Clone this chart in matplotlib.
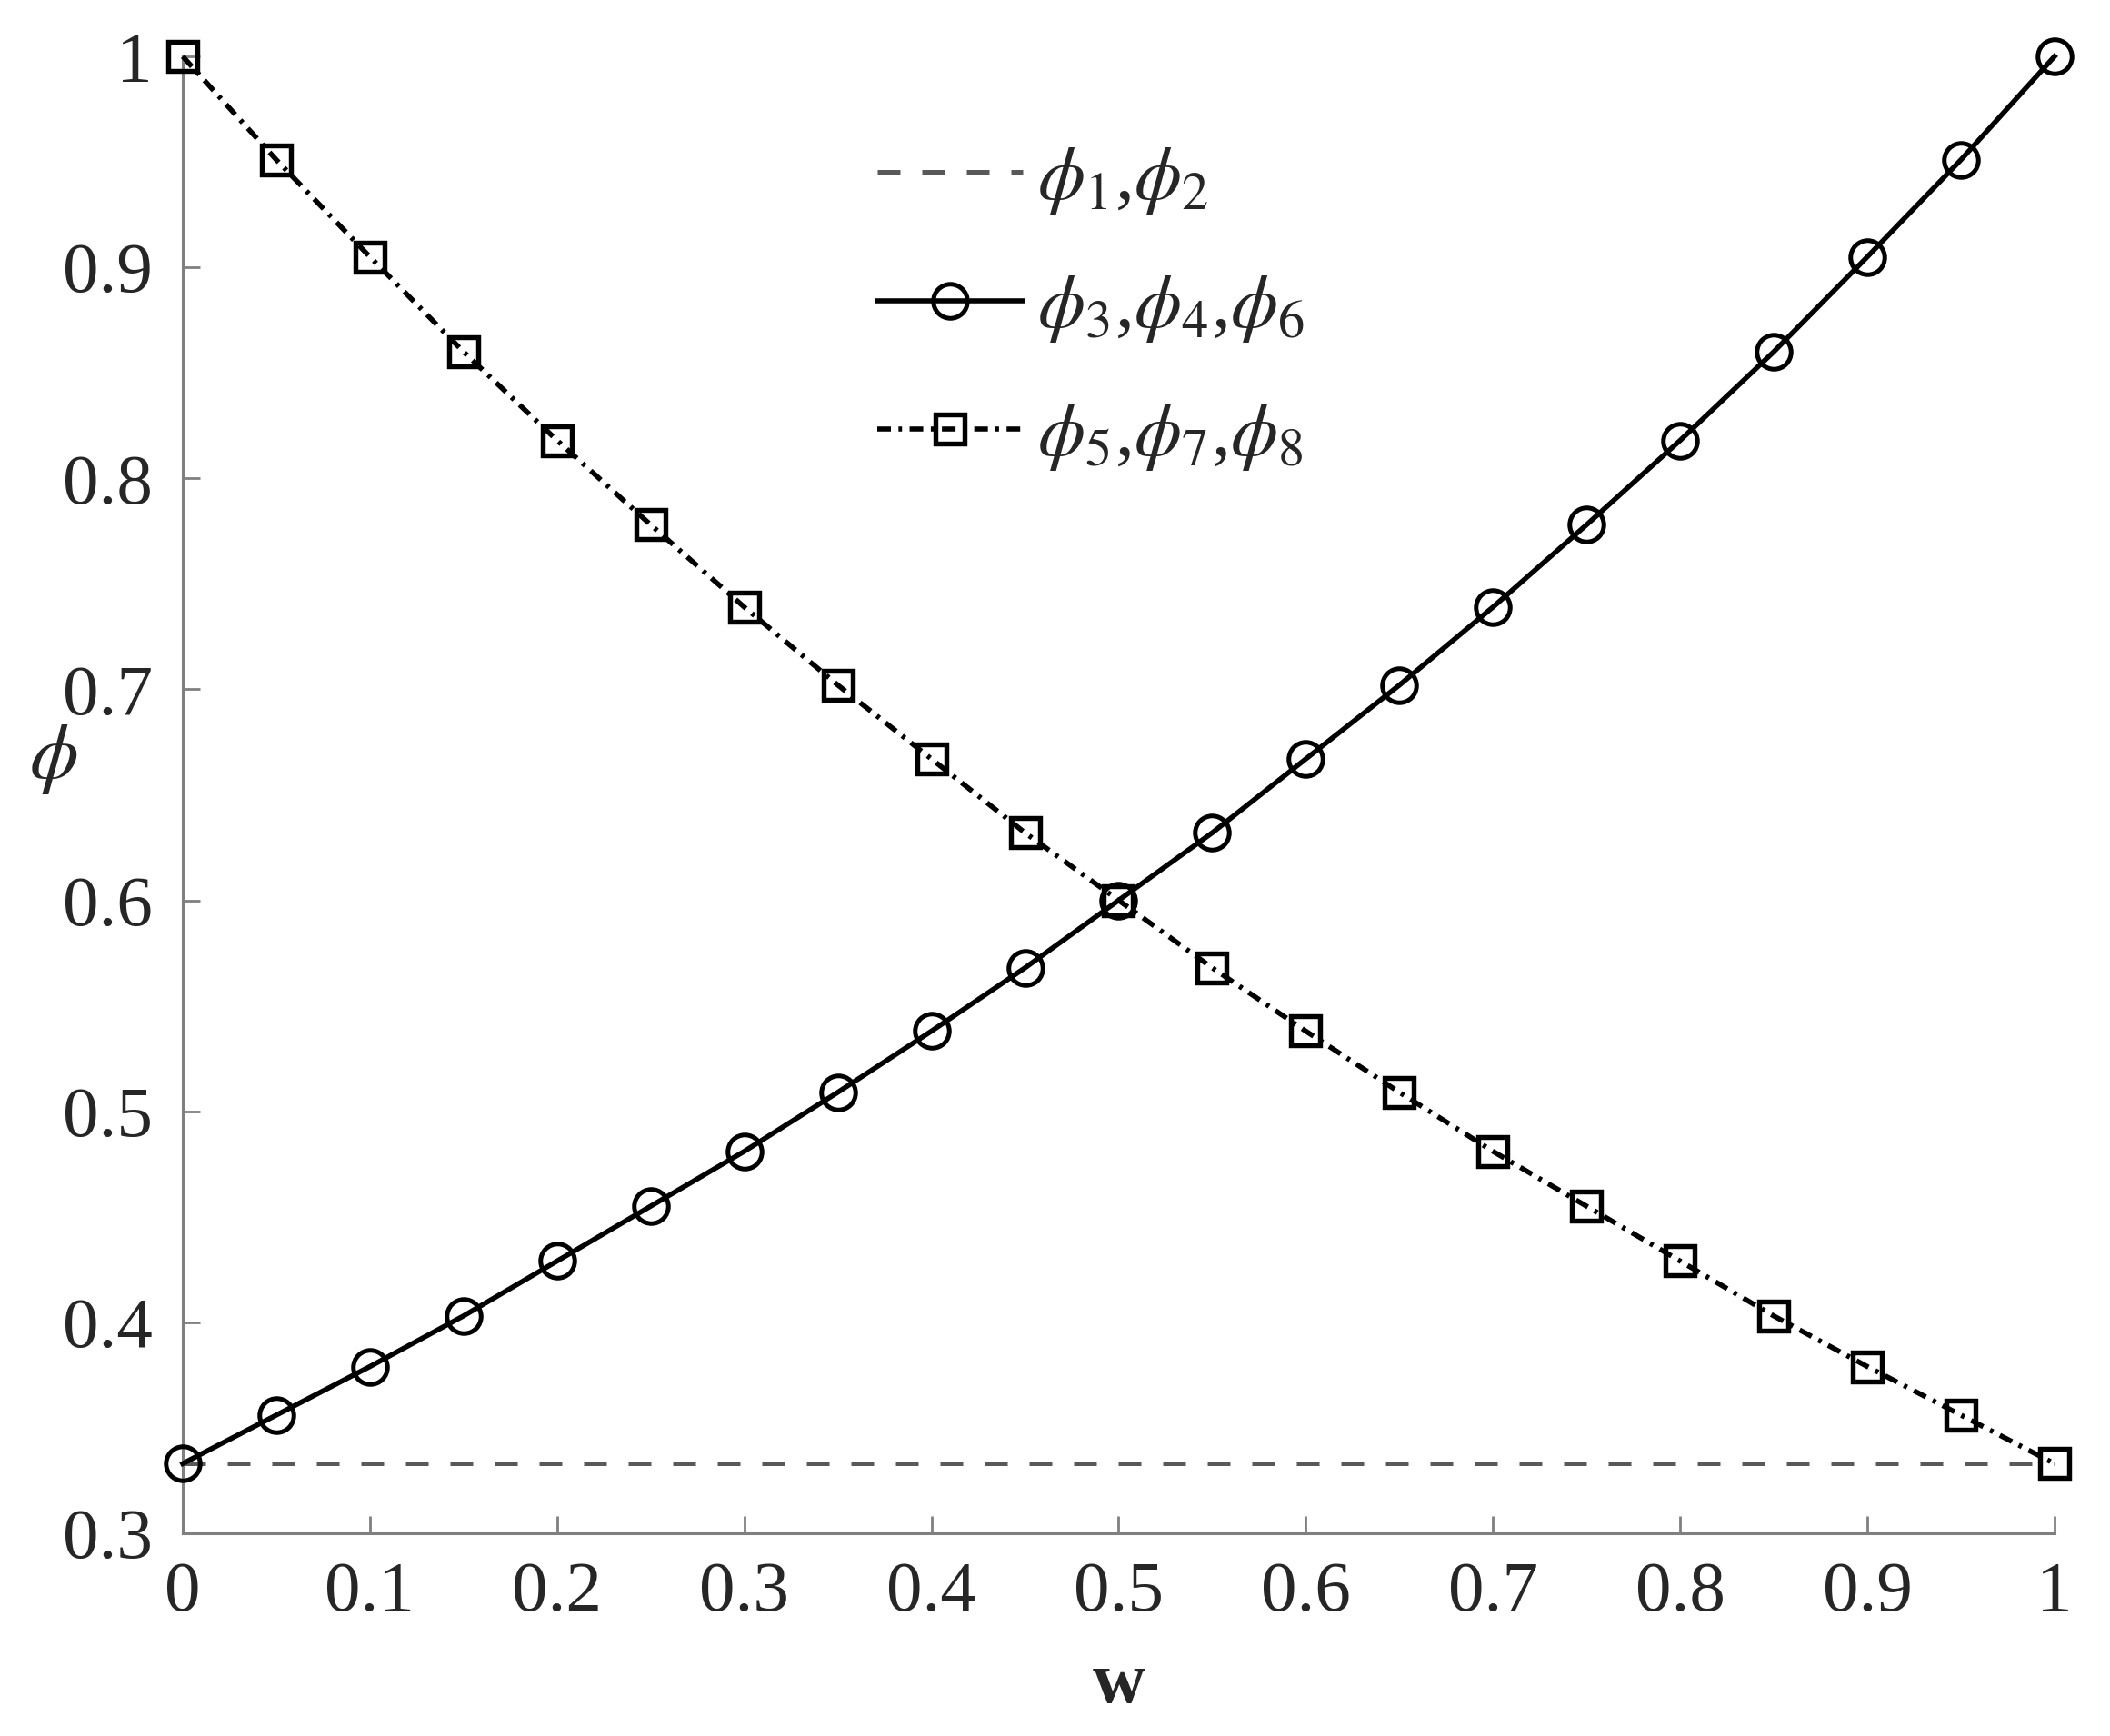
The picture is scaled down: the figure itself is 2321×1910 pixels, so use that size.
import matplotlib
matplotlib.use("Agg")
import matplotlib.pyplot as plt

plt.rcParams['font.family'] = ['Liberation Serif', 'DejaVu Serif']
plt.rcParams['mathtext.fontset'] = 'stix'

w = [0.00, 0.05, 0.10, 0.15, 0.20, 0.25, 0.30, 0.35, 0.40, 0.45, 0.50,
     0.55, 0.60, 0.65, 0.70, 0.75, 0.80, 0.85, 0.90, 0.95, 1.00]
phi_346 = [0.333, 0.356, 0.379, 0.403, 0.429, 0.455, 0.481, 0.509, 0.538, 0.568, 0.600,
           0.632, 0.667, 0.702, 0.739, 0.778, 0.818, 0.860, 0.905, 0.951, 1.000]
phi_578 = [1.000, 0.951, 0.905, 0.860, 0.818, 0.778, 0.739, 0.702, 0.667, 0.632, 0.600,
           0.568, 0.538, 0.509, 0.481, 0.455, 0.429, 0.403, 0.379, 0.356, 0.333]
w_12 = [0.0, 1.0]
phi_12 = [0.333, 0.333]

labels = [r'$\phi_1$,$\phi_2$', r'$\phi_3$,$\phi_4$,$\phi_6$', r'$\phi_5$,$\phi_7$,$\phi_8$']
xticks = [0, 0.1, 0.2, 0.3, 0.4, 0.5, 0.6, 0.7, 0.8, 0.9, 1]
xticklabels = ['0', '0.1', '0.2', '0.3', '0.4', '0.5', '0.6', '0.7', '0.8', '0.9', '1']
yticks = [0.3, 0.4, 0.5, 0.6, 0.7, 0.8, 0.9, 1.0]
yticklabels = ['0.3', '0.4', '0.5', '0.6', '0.7', '0.8', '0.9', '1']

fig = plt.figure(figsize=(23.21, 19.10), dpi=100)
ax = fig.add_axes([0.0866, 0.1168, 0.9737 - 0.0866, 0.9675 - 0.1168])

LW = 4.0
ax.plot(w_12, phi_12, color='#595959', lw=3.6, dashes=(5, 4.8), label=labels[0],
        zorder=2, clip_on=False)
ax.plot(w, phi_346, color='black', lw=LW, marker='o', ms=27, mfc='none', mec='black',
        mew=3.6, label=labels[1], zorder=3, clip_on=False)
ax.plot(w, phi_578, color='black', lw=LW, marker='s', ms=23, mfc='none', mec='black',
        mew=3.9, dashes=(2.7, 1.5, 0.7, 1.5), label=labels[2], zorder=3, clip_on=False)

ax.set_xlim(0, 1)
ax.set_ylim(0.3, 1.0)
ax.set_xticks(xticks)
ax.set_xticklabels(xticklabels)
ax.set_yticks(yticks)
ax.set_yticklabels(yticklabels)
for s in ['top', 'right']:
    ax.spines[s].set_visible(False)
for s in ['left', 'bottom']:
    ax.spines[s].set_color('#808080')
    ax.spines[s].set_linewidth(2.2)
ax.tick_params(direction='in', length=14, width=2.0, color='#808080',
               labelsize=57, labelcolor='#262626', pad=22)
ax.tick_params(axis='y', pad=24)

ax.set_xlabel('w', fontsize=58, fontweight='bold', color='#262626', labelpad=20)
ax.set_ylabel(r'$\phi$', fontsize=62, color='#262626', rotation=0,
              ha='center', va='center')
ax.yaxis.set_label_coords(-0.069, 0.524)

leg = ax.legend(loc='upper left', bbox_to_anchor=(0.371, 0.94), frameon=False,
                fontsize=60, handlelength=1.92, handletextpad=0.19, labelspacing=0.76,
                borderaxespad=0, borderpad=0)
for t in leg.get_texts():
    t.set_color('#262626')

fig.savefig('out.png', dpi=100)
